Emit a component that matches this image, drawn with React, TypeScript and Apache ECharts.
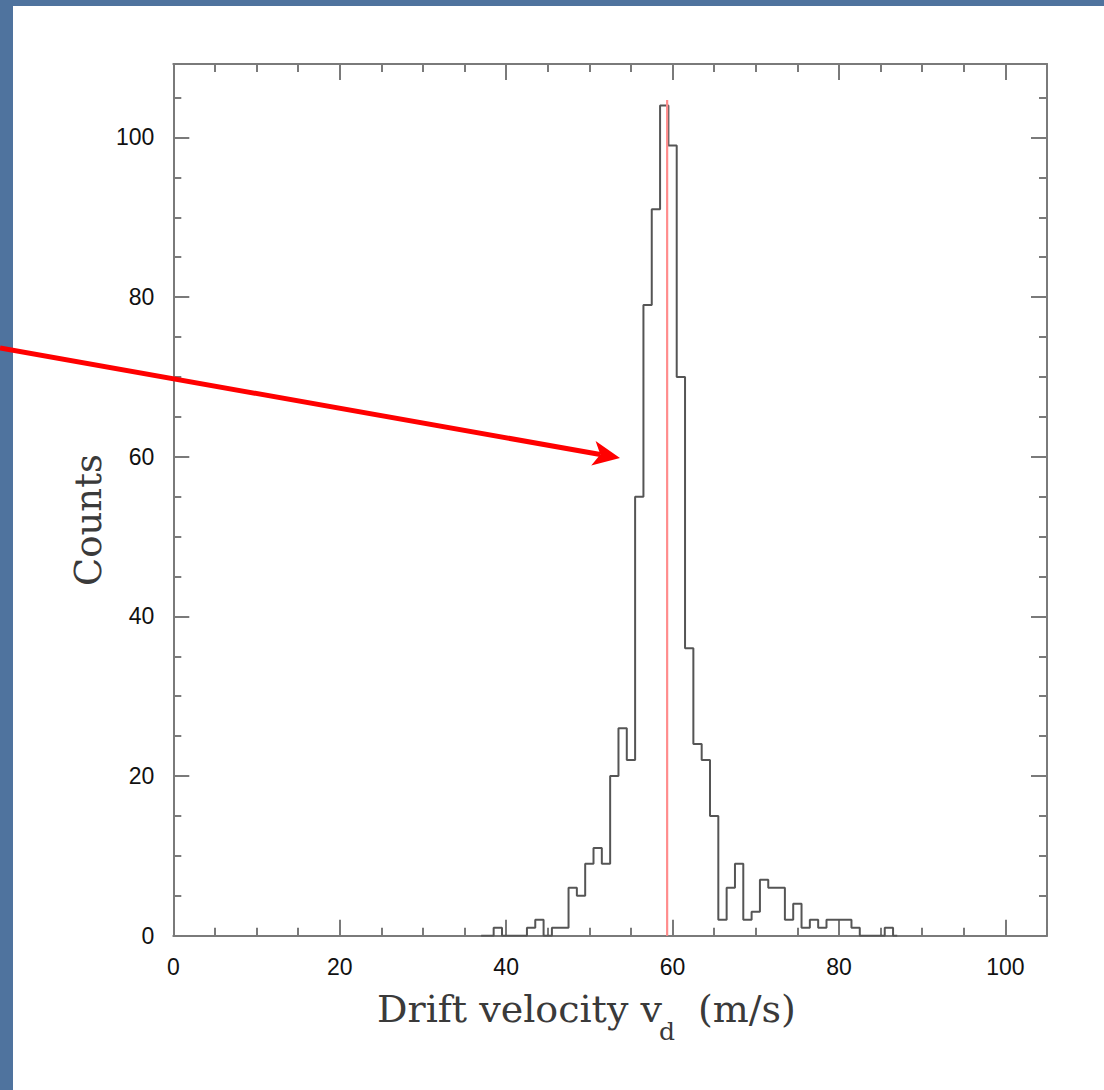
import React, { useEffect, useRef } from "react";
import * as echarts from "echarts";

// Histogram of drift velocity (bins 1 m/s wide, centred on integers)
const binCenters = [
  37, 38, 39, 40, 41, 42, 43, 44, 45, 46, 47, 48, 49, 50, 51, 52, 53, 54, 55, 56,
  57, 58, 59, 60, 61, 62, 63, 64, 65, 66, 67, 68, 69, 70, 71, 72, 73, 74, 75, 76,
  77, 78, 79, 80, 81, 82, 83, 84, 85, 86, 87,
];
const counts = [
  0, 0, 1, 0, 0, 0, 1, 2, 0, 1, 1, 6, 5, 9, 11, 9, 20, 26, 22, 55,
  79, 91, 104, 99, 70, 36, 24, 22, 15, 2, 6, 9, 2, 3, 7, 6, 6, 2, 4, 1,
  2, 1, 2, 2, 2, 1, 0, 0, 0, 1, 0,
];
const meanVelocity = 59.35;
const meanLineTop = 104.7;

const xMin = 0;
const xMax = 105;
const yMin = 0;
const yMax = 109.2;
const majorStep = 20;
const minorStep = 5;

const xTitle = "Drift velocity v";
const xTitleSub = "d";
const xTitleUnit = "(m/s)";
const yTitle = "Counts";

function measure(text: string, font: string) {
  const c = document.createElement("canvas").getContext("2d");
  if (!c) return text.length * 20;
  c.font = font;
  return c.measureText(text).width;
}

export default function App() {
  const ref = useRef<HTMLDivElement>(null);
  useEffect(() => {
    document.body.style.margin = "0";
    if (!ref.current) return;
    const chart = echarts.init(ref.current, undefined, { renderer: "svg" });
    const frame = "#7a7a7a";
    const lbl = {
      fontFamily: "Liberation Sans, Arial, sans-serif",
      fontSize: 23,
      color: "#111",
    };
    const majorFmt = (v: number) => (Math.abs(v % majorStep) < 1e-6 ? String(v) : "");
    const mkX = (pos: string, major: boolean, showLabel: boolean) => ({
      type: "value",
      position: pos,
      min: xMin,
      max: xMax,
      interval: major ? majorStep : minorStep,
      axisLine: { show: major, onZero: false, lineStyle: { color: frame, width: 2 } },
      axisTick: { show: true, inside: true, length: major ? 16 : 8, lineStyle: { color: frame, width: 2 } },
      axisLabel: { show: showLabel, margin: 20, formatter: majorFmt, ...lbl },
      splitLine: { show: false },
    });
    const mkY = (pos: string, major: boolean, showLabel: boolean) => ({
      type: "value",
      position: pos,
      min: yMin,
      max: yMax,
      interval: major ? majorStep : minorStep,
      axisLine: { show: major, onZero: false, lineStyle: { color: frame, width: 2 } },
      axisTick: { show: true, inside: true, length: major ? 16 : 8, lineStyle: { color: frame, width: 2 } },
      axisLabel: { show: showLabel, margin: 19, formatter: majorFmt, ...lbl },
      splitLine: { show: false },
    });

    // arrow geometry (annotation)
    const start = [0, 348];
    const tip = [620, 458];
    const dx = tip[0] - start[0];
    const dy = tip[1] - start[1];
    const len = Math.hypot(dx, dy);
    const ux = dx / len, uy = dy / len;
    const px = -uy, py = ux;
    const headLen = 27, headHalf = 12.5, notch = 7;
    const back = [tip[0] - headLen * ux, tip[1] - headLen * uy];
    const notchPt = [back[0] + notch * ux, back[1] + notch * uy];

    // x title pieces (verticalAlign top: baseline sits ~0.88em below y)
    const titleFont = "DejaVu Serif";
    const mainSize = 38;
    const subSize = 25;
    const titleLeft = 377;
    const mainBase = 1023;
    const subBase = 1041;
    const w1 = measure(xTitle, `${mainSize}px ${titleFont}`);
    const wd = measure(xTitleSub, `${subSize}px ${titleFont}`);
    const titleColor = "#3a3a3a";
    const subX = titleLeft + w1 - 3;
    const unitX = subX + wd + 23;

    chart.setOption({
      animation: false,
      backgroundColor: "#ffffff",
      grid: { left: 173.3, top: 64, right: 57, bottom: 154.3, containLabel: false, outerBoundsMode: "none" },
      xAxis: [mkX("bottom", true, true), mkX("bottom", false, false), mkX("top", true, false), mkX("top", false, false)],
      yAxis: [mkY("left", true, true), mkY("left", false, false), mkY("right", true, false), mkY("right", false, false)],
      series: [
        {
          type: "line",
          xAxisIndex: 0,
          yAxisIndex: 0,
          step: "middle",
          showSymbol: false,
          symbol: "none",
          lineStyle: { color: "#555", width: 2 },
          data: binCenters.map((c, i) => [c, counts[i]]),
          z: 3,
        },
        {
          type: "line",
          xAxisIndex: 0,
          yAxisIndex: 0,
          showSymbol: false,
          symbol: "none",
          lineStyle: { color: "#ff8c8c", width: 2.2 },
          data: [
            [meanVelocity, 0],
            [meanVelocity, meanLineTop],
          ],
          z: 4,
        },
      ],
      graphic: [
        { type: "rect", shape: { x: 0, y: 0, width: 13, height: 1090 }, style: { fill: "#4f739e" }, z: 1 },
        { type: "rect", shape: { x: 0, y: 0, width: 1104, height: 6 }, style: { fill: "#4f739e" }, z: 1 },
        {
          type: "text",
          x: titleLeft,
          y: mainBase - 0.88 * mainSize,
          style: { text: xTitle, align: "left", verticalAlign: "top", fontFamily: titleFont, fontSize: mainSize, fill: titleColor },
          z: 10,
        },
        {
          type: "text",
          x: subX,
          y: subBase - 0.88 * subSize,
          style: { text: xTitleSub, align: "left", verticalAlign: "top", fontFamily: titleFont, fontSize: subSize, fill: titleColor },
          z: 10,
        },
        {
          type: "text",
          x: unitX,
          y: mainBase - 0.88 * mainSize,
          style: { text: xTitleUnit, align: "left", verticalAlign: "top", fontFamily: titleFont, fontSize: mainSize, fill: titleColor },
          z: 10,
        },
        {
          type: "text",
          x: 88,
          y: 520,
          rotation: Math.PI / 2,
          style: {
            text: yTitle,
            align: "center",
            verticalAlign: "middle",
            fontFamily: titleFont,
            fontSize: 37,
            fill: titleColor,
          },
          z: 10,
        },
        {
          type: "line",
          shape: { x1: start[0], y1: start[1], x2: notchPt[0], y2: notchPt[1] },
          style: { stroke: "#ff0000", lineWidth: 5 },
          z: 100,
        },
        {
          type: "polygon",
          shape: {
            points: [
              tip,
              [back[0] + headHalf * px, back[1] + headHalf * py],
              notchPt,
              [back[0] - headHalf * px, back[1] - headHalf * py],
            ],
          },
          style: { fill: "#ff0000" },
          z: 100,
        },
      ],
    });
    return () => chart.dispose();
  }, []);
  return <div ref={ref} style={{ width: 1104, height: 1090, position: "absolute", left: 0, top: 0 }} />;
}
